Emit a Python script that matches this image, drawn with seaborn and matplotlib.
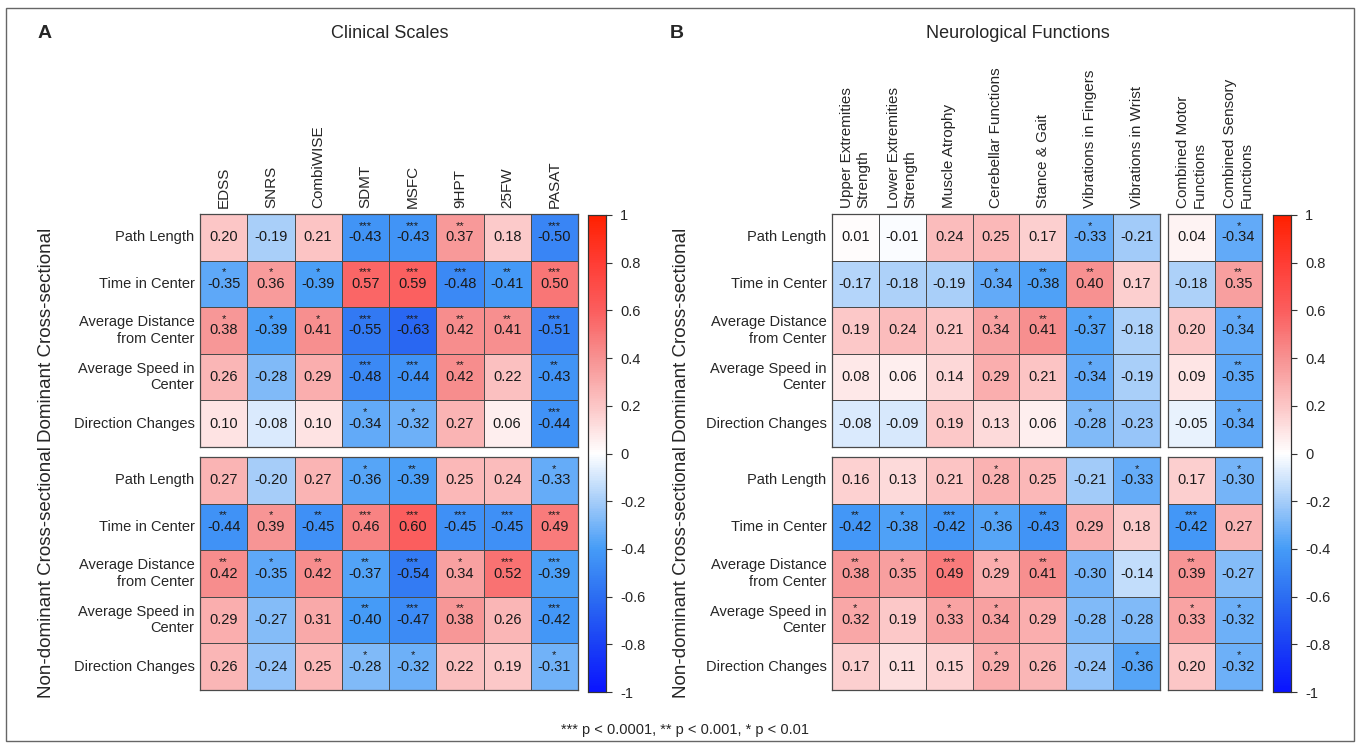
import numpy as np
import pandas as pd
import matplotlib.pyplot as plt
import seaborn as sns
from matplotlib.colors import LinearSegmentedColormap
from matplotlib.patches import Rectangle

# ---- data ----
rows = ["Path Length", "Time in Center", "Average Distance\nfrom Center",
        "Average Speed in\nCenter", "Direction Changes"]
clinical = ["EDSS", "SNRS", "CombiWISE", "SDMT", "MSFC", "9HPT", "25FW", "PASAT"]
neuro = ["Upper Extremities\nStrength", "Lower Extremities\nStrength", "Muscle Atrophy",
         "Cerebellar Functions", "Stance & Gait", "Vibrations in Fingers", "Vibrations in Wrist"]
combined = ["Combined Motor\nFunctions", "Combined Sensory\nFunctions"]

clin_dom = [[0.20, -0.19, 0.21, -0.43, -0.43, 0.37, 0.18, -0.50],
            [-0.35, 0.36, -0.39, 0.57, 0.59, -0.48, -0.41, 0.50],
            [0.38, -0.39, 0.41, -0.55, -0.63, 0.42, 0.41, -0.51],
            [0.26, -0.28, 0.29, -0.48, -0.44, 0.42, 0.22, -0.43],
            [0.10, -0.08, 0.10, -0.34, -0.32, 0.27, 0.06, -0.44]]
clin_dom_sig = [[0, 0, 0, 3, 3, 2, 0, 3],
                [1, 1, 1, 3, 3, 3, 2, 3],
                [1, 1, 1, 3, 3, 2, 2, 3],
                [0, 0, 0, 3, 3, 2, 0, 2],
                [0, 0, 0, 1, 1, 0, 0, 3]]

clin_nondom = [[0.27, -0.20, 0.27, -0.36, -0.39, 0.25, 0.24, -0.33],
               [-0.44, 0.39, -0.45, 0.46, 0.60, -0.45, -0.45, 0.49],
               [0.42, -0.35, 0.42, -0.37, -0.54, 0.34, 0.52, -0.39],
               [0.29, -0.27, 0.31, -0.40, -0.47, 0.38, 0.26, -0.42],
               [0.26, -0.24, 0.25, -0.28, -0.32, 0.22, 0.19, -0.31]]
clin_nondom_sig = [[0, 0, 0, 1, 2, 0, 0, 1],
                   [2, 1, 2, 3, 3, 3, 3, 3],
                   [2, 1, 2, 2, 3, 1, 3, 3],
                   [0, 0, 0, 2, 3, 2, 0, 3],
                   [0, 0, 0, 1, 1, 0, 0, 1]]

neuro_dom = [[0.01, -0.01, 0.24, 0.25, 0.17, -0.33, -0.21],
             [-0.17, -0.18, -0.19, -0.34, -0.38, 0.40, 0.17],
             [0.19, 0.24, 0.21, 0.34, 0.41, -0.37, -0.18],
             [0.08, 0.06, 0.14, 0.29, 0.21, -0.34, -0.19],
             [-0.08, -0.09, 0.19, 0.13, 0.06, -0.28, -0.23]]
neuro_dom_sig = [[0, 0, 0, 0, 0, 1, 0],
                 [0, 0, 0, 1, 2, 2, 0],
                 [0, 0, 0, 1, 2, 1, 0],
                 [0, 0, 0, 0, 0, 1, 0],
                 [0, 0, 0, 0, 0, 1, 0]]

neuro_nondom = [[0.16, 0.13, 0.21, 0.28, 0.25, -0.21, -0.33],
                [-0.42, -0.38, -0.42, -0.36, -0.43, 0.29, 0.18],
                [0.38, 0.35, 0.49, 0.29, 0.41, -0.30, -0.14],
                [0.32, 0.19, 0.33, 0.34, 0.29, -0.28, -0.28],
                [0.17, 0.11, 0.15, 0.29, 0.26, -0.24, -0.36]]
neuro_nondom_sig = [[0, 0, 0, 1, 0, 0, 1],
                    [2, 1, 3, 1, 2, 0, 0],
                    [2, 1, 3, 1, 2, 0, 0],
                    [1, 0, 1, 1, 0, 0, 0],
                    [0, 0, 0, 1, 0, 0, 1]]

comb_dom = [[0.04, -0.34], [-0.18, 0.35], [0.20, -0.34], [0.09, -0.35], [-0.05, -0.34]]
comb_dom_sig = [[0, 1], [0, 2], [0, 1], [0, 2], [0, 1]]
comb_nondom = [[0.17, -0.30], [-0.42, 0.27], [0.39, -0.27], [0.33, -0.32], [0.20, -0.32]]
comb_nondom_sig = [[0, 1], [3, 0], [2, 0], [1, 1], [0, 1]]

# ---- style ----
sns.set_theme(style="white")
plt.rcParams['font.family'] = ['Liberation Sans', 'DejaVu Sans']

cmap = LinearSegmentedColormap.from_list("rb", [
    (0.0, "#0a14ff"), (0.1, "#1a40f5"), (0.2, "#2c6ef2"), (0.3, "#459cf7"),
    (0.4, "#a6cdf9"), (0.5, "#ffffff"), (0.6, "#fcc6c6"), (0.7, "#f79292"),
    (0.8, "#fb5e5e"), (0.9, "#ff3d35"), (1.0, "#ff2000")])

W, H = 1358, 746
fig = plt.figure(figsize=(W / 100, H / 100), dpi=100)


def box(x0, y0, x1, y1):
    return [x0 / W, 1 - y1 / H, (x1 - x0) / W, (y1 - y0) / H]


def block(rect, vals, sig, cols, show_cols, show_rows, cbar_ax=None):
    ax = fig.add_axes(box(*rect))
    df = pd.DataFrame(vals, index=rows, columns=cols)
    sns.heatmap(df, ax=ax, cmap=cmap, vmin=-1, vmax=1, annot=True, fmt=".2f",
                annot_kws={"size": 10.5, "color": "#1a1a1a"},
                linewidths=0.6, linecolor="#4a4a4a",
                cbar=cbar_ax is not None, cbar_ax=cbar_ax)
    for i, r in enumerate(sig):
        for j, n in enumerate(r):
            if n:
                ax.text(j + 0.5, i + 0.25, "*" * n, ha="center", va="center",
                        fontsize=8, color="#1a1a1a")
    for s in ax.spines.values():
        s.set_visible(True)
        s.set_color("#4a4a4a")
        s.set_linewidth(0.9)
    ax.tick_params(length=0, pad=4)
    if show_cols:
        ax.xaxis.tick_top()
        ax.set_xticklabels(cols, rotation=90, ha="center", va="bottom",
                           multialignment="left", fontsize=11)
    else:
        ax.set_xticks([])
    if show_rows:
        ax.set_yticklabels(rows, rotation=0, ha="right", fontsize=10.5)
    else:
        ax.set_yticks([])
    ax.set_xlabel("")
    ax.set_ylabel("")
    return ax


def style_cbar(cax):
    ticks = np.linspace(-1, 1, 11)
    cax.set_yticks(ticks)
    cax.set_yticklabels(["%g" % round(t, 1) for t in ticks])
    cax.tick_params(axis="y", length=4, width=0.8, color="#333333",
                    labelsize=10.5, pad=6, right=True, direction="out")
    for s in cax.spines.values():
        s.set_visible(True)
        s.set_linewidth(0.8)
        s.set_color("#333333")


top = (214, 447)
bot = (457, 690)

# panel A
cax_a = fig.add_axes(box(588, 215, 606, 692))
block((200, top[0], 578, top[1]), clin_dom, clin_dom_sig, clinical, True, True, cbar_ax=cax_a)
block((200, bot[0], 578, bot[1]), clin_nondom, clin_nondom_sig, clinical, False, True)
style_cbar(cax_a)

# panel B
cax_b = fig.add_axes(box(1273, 215, 1291, 692))
block((832, top[0], 1160, top[1]), neuro_dom, neuro_dom_sig, neuro, True, True, cbar_ax=cax_b)
block((832, bot[0], 1160, bot[1]), neuro_nondom, neuro_nondom_sig, neuro, False, True)
block((1168, top[0], 1262, top[1]), comb_dom, comb_dom_sig, combined, True, False)
block((1168, bot[0], 1262, bot[1]), comb_nondom, comb_nondom_sig, combined, False, False)
style_cbar(cax_b)

# group labels
for x in (47, 682):
    fig.text(x / W, 1 - 335 / H, "Dominant Cross-sectional", rotation=90,
             ha="center", va="center", fontsize=13.5)
    fig.text(x / W, 1 - 572 / H, "Non-dominant Cross-sectional", rotation=90,
             ha="center", va="center", fontsize=13.5)

# titles and panel letters
fig.text(390 / W, 1 - 34 / H, "Clinical Scales", ha="center", va="center", fontsize=13)
fig.text(1018 / W, 1 - 34 / H, "Neurological Functions", ha="center", va="center", fontsize=13)
fig.text(45 / W, 1 - 34 / H, "A", ha="center", va="center", fontsize=14, fontweight="bold")
fig.text(677 / W, 1 - 34 / H, "B", ha="center", va="center", fontsize=14, fontweight="bold")

fig.text(685 / W, 1 - 730 / H, "*** p < 0.0001, ** p < 0.001, * p < 0.01",
         ha="center", va="center", fontsize=10.5)

fig.patches.append(Rectangle((6 / W, 1 - 741 / H), 1348 / W, 733 / H,
                             transform=fig.transFigure, fill=False,
                             edgecolor="#666666", linewidth=1))

fig.savefig("out.png", dpi=100)
